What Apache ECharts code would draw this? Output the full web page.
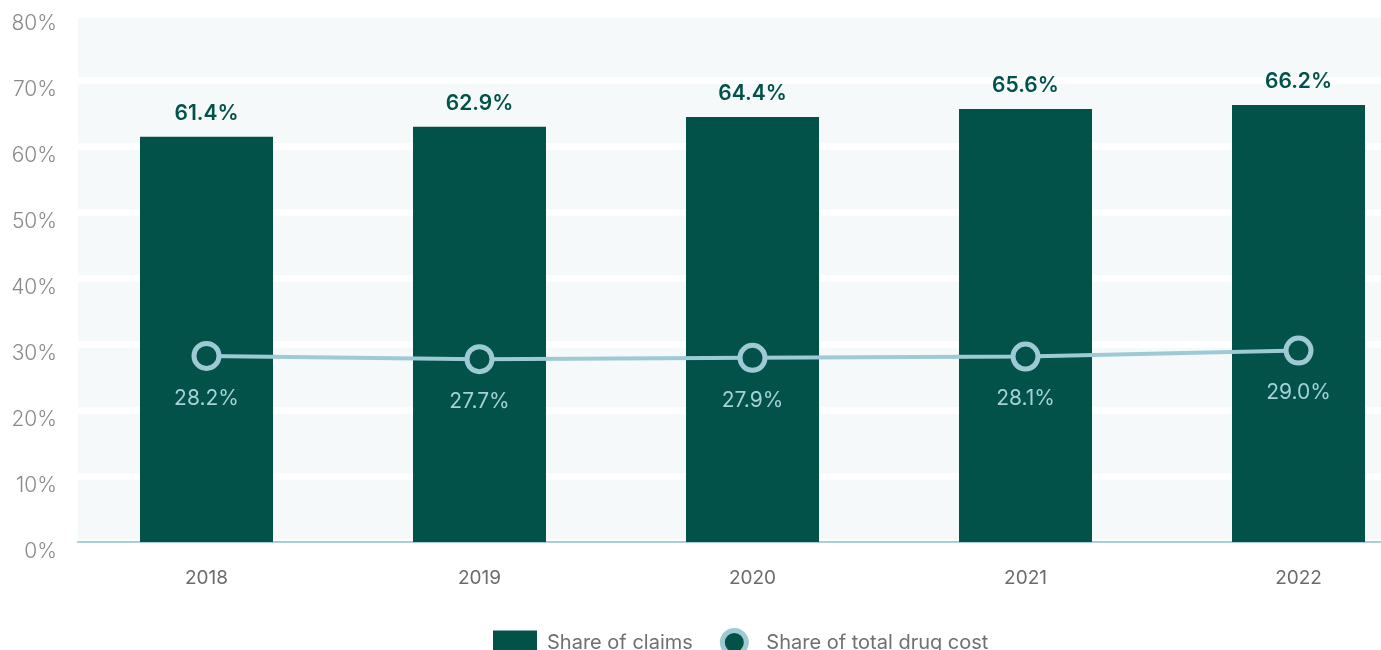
<!DOCTYPE html>
<html>
<head>
<meta charset="utf-8">
<script src="https://cdn.jsdelivr.net/npm/echarts@6/dist/echarts.min.js"></script>
<style>
  html, body { margin: 0; padding: 0; background: #ffffff; overflow: hidden; }
  /* the drawing surface runs past the right edge of the window */
  #chart { width: 1435px; height: 650px; }
</style>
</head>
<body>
<div id="chart"></div>
<script>
// Years on the category axis
const years = ['2018', '2019', '2020', '2021', '2022'];
// Share of claims (%)
const shareOfClaims = [61.4, 62.9, 64.4, 65.6, 66.2];
// Share of total drug cost (%)
const shareOfCost = [28.2, 27.7, 27.9, 28.1, 29.0];
// Value axis range
const yMin = 0, yMax = 80, yStep = 10;

const DARK = '#02524a';
const LIGHT = '#9ecad6';
const FONT = 'Inter';

const chart = echarts.init(document.getElementById('chart'), null, { renderer: 'canvas' });

const pct = v => v.toFixed(1) + '%';

chart.setOption({
  animation: false,
  textStyle: { fontFamily: FONT },
  grid: [
    // panel with background, gridlines and the value axis
    { left: 78, right: 0, top: 14, bottom: 108, show: true, backgroundColor: '#f5f9fa', borderWidth: 0 },
    // plotting area for the marks
    { left: 70, right: 0, top: 14, bottom: 108 }
  ],
  xAxis: [
    {
      gridIndex: 0, type: 'category', data: years,
      axisLine: { show: true, lineStyle: { color: '#a9cfd9', width: 2 } },
      axisTick: { show: false }, axisLabel: { show: false }, splitLine: { show: false }
    },
    {
      gridIndex: 1, type: 'category', data: years,
      axisLine: { show: false }, axisTick: { show: false },
      axisLabel: { color: '#6b6b6b', fontSize: 19, margin: 27, fontFamily: FONT }
    }
  ],
  yAxis: [
    {
      gridIndex: 0, type: 'value', min: yMin, max: yMax, interval: yStep,
      axisLine: { show: false }, axisTick: { show: false },
      axisLabel: {
        color: '#8a8a8a', fontSize: 21, fontWeight: 300, margin: 21,
        verticalAlign: 'top', lineHeight: 20, fontFamily: FONT,
        formatter: v => v + '%'
      },
      splitLine: { show: true, lineStyle: { color: '#ffffff', width: 6.5 } }
    },
    {
      gridIndex: 1, type: 'value', min: yMin, max: yMax, interval: yStep,
      show: false, splitLine: { show: false }
    }
  ],
  legend: {
    left: 488, top: 623,
    itemWidth: 44, itemHeight: 24, itemGap: 27,
    textStyle: { color: '#707070', fontSize: 20, fontFamily: FONT, padding: [0, 0, 0, 5] },
    data: [
      { name: 'Share of claims', icon: 'rect', itemStyle: { color: DARK } },
      { name: 'Share of total drug cost', icon: 'circle',
        itemStyle: { color: DARK, borderColor: LIGHT, borderWidth: 5 } }
    ]
  },
  series: [
    {
      name: 'Share of claims', type: 'bar',
      xAxisIndex: 1, yAxisIndex: 1,
      data: shareOfClaims, barWidth: 133,
      itemStyle: { color: DARK },
      label: {
        show: true, position: 'top', distance: 13,
        color: DARK, fontSize: 21, fontWeight: 600, fontFamily: FONT,
        formatter: p => pct(p.value)
      }
    },
    {
      name: 'Share of total drug cost', type: 'line',
      xAxisIndex: 1, yAxisIndex: 1,
      data: shareOfCost,
      symbol: 'circle', symbolSize: 25,
      lineStyle: { color: LIGHT, width: 4 },
      itemStyle: { color: DARK, borderColor: LIGHT, borderWidth: 5 },
      label: {
        show: true, position: 'bottom', distance: 17,
        color: '#a5cfd9', fontSize: 21, fontFamily: FONT,
        formatter: p => pct(p.value)
      },
      z: 3
    }
  ]
});
</script>
</body>
</html>
